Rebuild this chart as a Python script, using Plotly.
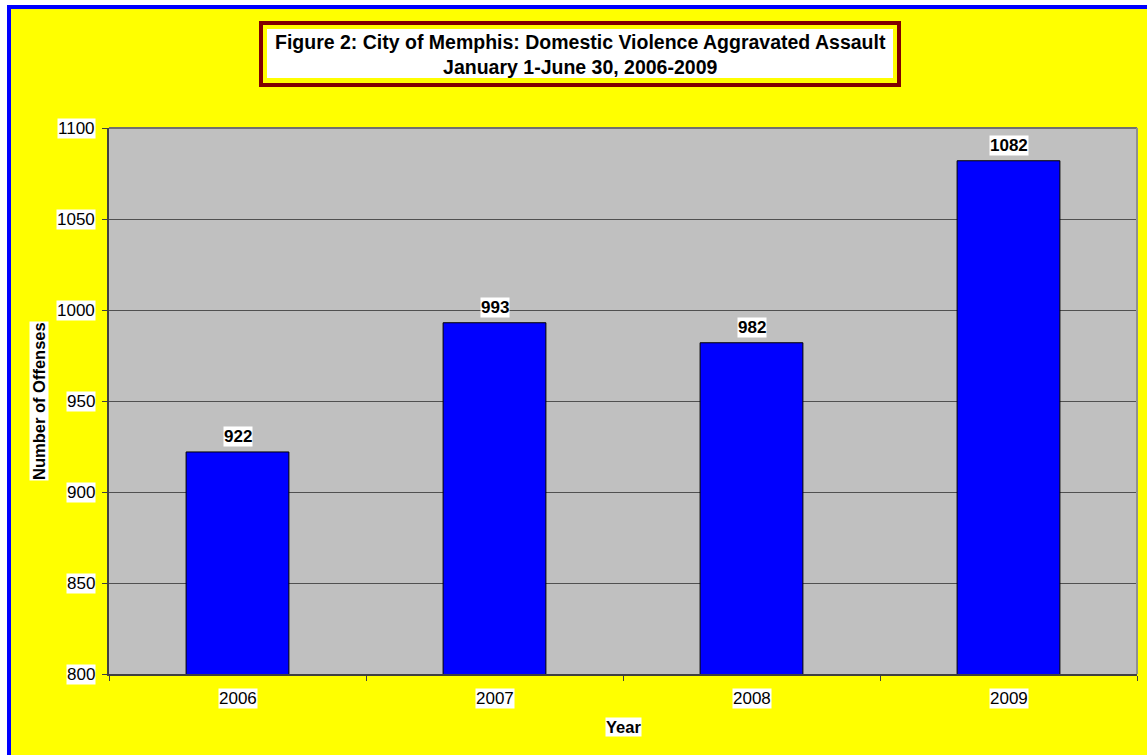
import plotly.graph_objects as go

# chart data
years = ["2006", "2007", "2008", "2009"]
offenses = [922, 993, 982, 1082]
y_ticks = [800, 850, 900, 950, 1000, 1050, 1100]

title_lines = ["Figure 2: City of Memphis: Domestic Violence Aggravated Assault",
               "January 1-June 30, 2006-2009"]

W, H = 1147, 755
L, R, T, B = 109, 10, 128, 81
PW, PH = W - L - R, H - T - B
FONT = "Arial, Liberation Sans, sans-serif"


def px_x(p):
    """pixel column -> paper x"""
    return (p - L) / PW


def px_y(q):
    """pixel row (from top) -> paper y"""
    return (H - B - q) / PH


fig = go.Figure()
fig.add_trace(go.Bar(
    x=years, y=offenses, width=0.4,
    marker=dict(color="#0000FF", line=dict(color="#000000", width=1)),
    hoverinfo="x+y",
))

annotations = []
# value labels with white boxes (category axis -> use the index)
for i, v in enumerate(offenses):
    annotations.append(dict(
        x=i, y=v, xref="x", yref="y", text=f"<b>{v}</b>", showarrow=False,
        xanchor="center", yanchor="bottom", yshift=5, bgcolor="white", borderpad=0,
        font=dict(family=FONT, size=17, color="black"),
    ))
# y tick labels (white background like the original)
for t in y_ticks:
    annotations.append(dict(
        x=px_x(96), y=t, xref="paper", yref="y", text=str(t), showarrow=False,
        xanchor="right", yanchor="middle", bgcolor="white", borderpad=0,
        font=dict(family=FONT, size=17, color="black"),
    ))
# x tick labels
for i, yr in enumerate(years):
    annotations.append(dict(
        x=i, y=px_y(698), xref="x", yref="paper", text=yr, showarrow=False,
        xanchor="center", yanchor="middle", bgcolor="white", borderpad=0,
        font=dict(family=FONT, size=17, color="black"),
    ))
# axis titles
annotations.append(dict(
    x=px_x(39), y=0.5, xref="paper", yref="paper", text="<b>Number of Offenses</b>",
    textangle=-90, showarrow=False, xanchor="center", yanchor="middle",
    bgcolor="white", borderpad=0,
    font=dict(family=FONT, size=16.5, color="black"),
))
annotations.append(dict(
    x=0.5, y=px_y(727), xref="paper", yref="paper", text="<b>Year</b>",
    showarrow=False, xanchor="center", yanchor="middle", bgcolor="white", borderpad=0,
    font=dict(family=FONT, size=16.5, color="black"),
))
# chart title
annotations.append(dict(
    x=px_x(580), y=px_y(54), xref="paper", yref="paper",
    text="<b>" + "<br>".join(title_lines) + "</b>", showarrow=False,
    xanchor="center", yanchor="middle",
    font=dict(family=FONT, size=19.5, color="black"),
))

shapes = [
    # white page strips at top/left, then the blue frame edge
    dict(type="rect", xref="paper", yref="paper", x0=px_x(-5), x1=px_x(7),
         y0=px_y(H + 5), y1=px_y(-5), fillcolor="white", line_width=0),
    dict(type="rect", xref="paper", yref="paper", x0=px_x(-5), x1=px_x(W + 5),
         y0=px_y(5), y1=px_y(-5), fillcolor="white", line_width=0),
    dict(type="rect", xref="paper", yref="paper", x0=px_x(7), x1=px_x(11),
         y0=px_y(H + 5), y1=px_y(5), fillcolor="#0000FF", line_width=0),
    dict(type="rect", xref="paper", yref="paper", x0=px_x(7), x1=px_x(W + 5),
         y0=px_y(9), y1=px_y(5), fillcolor="#0000FF", line_width=0),
    # title box
    dict(type="rect", xref="paper", yref="paper", x0=px_x(261), x1=px_x(899),
         y0=px_y(85), y1=px_y(23), line=dict(color="#800000", width=4)),
    dict(type="rect", xref="paper", yref="paper", x0=px_x(267), x1=px_x(893),
         y0=px_y(78), y1=px_y(29), fillcolor="white", line_width=0),
    # grey top/right plot border
    dict(type="line", xref="paper", yref="paper", x0=0, x1=1, y0=1, y1=1,
         line=dict(color="#707070", width=2)),
    dict(type="line", xref="paper", yref="paper", x0=1, x1=1, y0=0, y1=1,
         line=dict(color="#909090", width=2)),
]

fig.update_layout(
    width=W, height=H,
    margin=dict(l=L, r=R, t=T, b=B),
    paper_bgcolor="#FFFF00",
    plot_bgcolor="#C0C0C0",
    showlegend=False,
    annotations=annotations,
    shapes=shapes,
)
fig.update_xaxes(
    type="category", showticklabels=False, ticks="outside", tickson="boundaries",
    ticklen=5, tickcolor="#404040", showline=True, linecolor="#404040", linewidth=2,
    showgrid=False, range=[-0.5, 3.5],
)
fig.update_yaxes(
    range=[800, 1100], tickvals=y_ticks, showticklabels=False, ticks="outside",
    ticklen=5, tickcolor="#404040", showline=True, linecolor="#404040", linewidth=2,
    showgrid=True, gridcolor="#505050", gridwidth=1, zeroline=False,
)

# drop the default 8px body margin so the figure sits at the page origin
fig.write_html("out.html", config={"displayModeBar": False},
               post_script="document.body.style.margin='0';")
